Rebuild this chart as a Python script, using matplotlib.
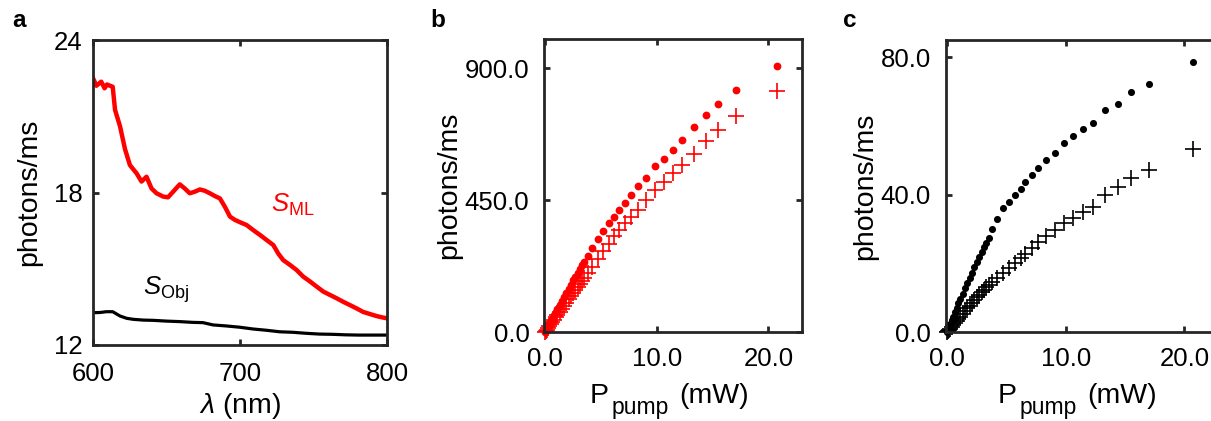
import matplotlib
matplotlib.use('Agg')
import matplotlib.pyplot as plt
from matplotlib.ticker import FormatStrFormatter

plt.rcParams['font.family'] = ['Liberation Sans', 'DejaVu Sans']
plt.rcParams['mathtext.fontset'] = 'custom'
plt.rcParams['mathtext.rm'] = 'Liberation Sans'
plt.rcParams['mathtext.it'] = 'Liberation Sans:italic'
plt.rcParams['mathtext.bf'] = 'Liberation Sans:bold'

# --- panel a: spectra ---
wl_ml = [600, 602.3, 605.6, 607.9, 609.5, 611.6, 613.4, 615, 618.4, 621.8, 625.1,
         629.7, 633, 636.4, 639.8, 643.2, 647.7, 651, 654.5, 659, 662.4, 665.8,
         669.2, 672.7, 676, 679.5, 682.9, 686.3, 689.7, 693.2, 696.6, 700, 704.5,
         709, 713.6, 718.1, 722.7, 726, 729.4, 734, 738.5, 743, 747.6, 752.1,
         756.7, 761.2, 765.7, 770.2, 774.8, 779.3, 783.8, 788.3, 792.8, 797.3, 800]
s_ml = [22.5, 22.2, 22.36, 22.1, 22.25, 22.2, 22.16, 21.25, 20.6, 19.7, 19.08,
        18.75, 18.43, 18.62, 18.16, 17.97, 17.84, 17.81, 18.03, 18.32, 18.16, 17.97,
        18.03, 18.12, 18.07, 17.97, 17.86, 17.77, 17.44, 17.05, 16.92, 16.83, 16.72,
        16.52, 16.33, 16.13, 15.93, 15.6, 15.34, 15.15, 14.95, 14.69, 14.5, 14.3,
        14.1, 13.97, 13.84, 13.7, 13.57, 13.44, 13.3, 13.22, 13.14, 13.08, 13.05]

wl_obj = [600, 605, 609, 613.4, 618.4, 622.9, 627.4, 634.2, 641, 650, 659, 668,
          674.8, 681.6, 690.6, 699.7, 708.8, 717.9, 727, 736, 745, 754, 763, 772,
          781, 790, 800]
s_obj = [13.27, 13.28, 13.31, 13.31, 13.14, 13.05, 13.01, 12.98, 12.97, 12.94,
         12.92, 12.89, 12.88, 12.79, 12.75, 12.7, 12.63, 12.58, 12.52, 12.5, 12.46,
         12.43, 12.42, 12.4, 12.39, 12.39, 12.39]

# --- panels b, c: power series ---
p_pump = [20.75, 17.05, 15.5, 14.38, 13.32, 12.3, 11.41, 10.6, 9.88, 9.06, 8.36,
          7.68, 7.15, 6.6, 6.2, 5.7, 5.22, 4.74, 4.2, 3.8, 3.5, 3.3, 3.1, 2.9, 2.7,
          2.5, 2.3, 2.1, 1.9, 1.7, 1.5, 1.3, 1.1, 0.95, 0.8, 0.65, 0.5, 0.38, 0.26,
          0.15, 0.06, 0.0]
b_dot = [907, 827, 779, 739, 699, 654, 620, 592, 567, 526, 498, 469, 439, 415, 392,
         372, 346, 318, 286, 258, 240, 228, 215, 202, 189, 176, 162, 148, 134, 120,
         106, 92, 78, 67, 57, 46, 36, 27, 19, 11, 4, 0]
b_plus = [822, 737, 691, 651, 608, 571, 543, 512, 485, 452, 418, 393, 372, 348, 326,
          302, 277, 248, 222, 201, 185, 175, 164, 154, 143, 132, 122, 111, 100, 90,
          79, 69, 58, 50, 42, 34, 26, 20, 14, 8, 3, 0]
c_dot = [78.6, 72.3, 69.9, 66.3, 64.6, 60.8, 59.1, 57.1, 55.1, 52.2, 50.1, 47.6,
         45.7, 43.8, 41.6, 39.9, 37.7, 36.0, 32.8, 29.9, 27.5, 26.0, 24.6, 23.2,
         21.8, 20.3, 18.8, 17.3, 15.8, 14.3, 12.8, 11.2, 9.6, 8.4, 7.1, 5.8, 4.5,
         3.4, 2.3, 1.3, 0.5, 0]
c_plus = [53.4, 47.1, 44.7, 42.3, 39.9, 36.5, 35.0, 33.2, 31.8, 29.7, 28.0, 26.1,
          24.4, 22.8, 21.5, 20.0, 18.6, 17.3, 15.7, 14.6, 13.7, 13.0, 12.3, 11.6,
          10.9, 10.1, 9.3, 8.5, 7.7, 6.9, 6.0, 5.2, 4.4, 3.8, 3.2, 2.6, 2.0, 1.5,
          1.0, 0.6, 0.2, 0]

AXC = '#262626'
TICK_FS = 18.5
LABEL_FS = 20.5

W, H = 1211, 421
fig = plt.figure(figsize=(W / 100, H / 100), dpi=100)


def px_axes(left, top, right, bottom):
    return fig.add_axes([left / W, 1 - bottom / H, (right - left) / W, (bottom - top) / H])


def px_text(x, y, s, **kw):
    # x, y in pixels from the top-left corner, y is the baseline
    return fig.text(x / W, 1 - y / H, s, ha='left', va='baseline', **kw)


def style(ax, xpad, ypad):
    for s in ax.spines.values():
        s.set_linewidth(2)
        s.set_color(AXC)
    ax.tick_params(direction='in', length=4, width=2, color=AXC, labelsize=TICK_FS,
                   top=True, right=True, labelcolor='black')
    ax.tick_params(axis='x', pad=xpad)
    ax.tick_params(axis='y', pad=ypad)


def pump_label(x0):
    # "P_pump (mW)" with a larger subscript than mathtext gives
    px_text(x0, 403, 'P', fontsize=LABEL_FS)
    px_text(x0 + 22, 414, 'pump', fontsize=16.5)
    px_text(x0 + 89, 403, '(mW)', fontsize=LABEL_FS)


# panel a
ax_a = px_axes(93, 40, 387, 345)
ax_a.plot(wl_obj, s_obj, color='black', lw=2.3)
ax_a.plot(wl_ml, s_ml, color='#ff0000', lw=3.2)
ax_a.set_xlim(600, 800)
ax_a.set_ylim(12, 24)
ax_a.set_xticks([600, 700, 800])
ax_a.set_yticks([12, 18, 24])
style(ax_a, 12, 7.5)
ax_a.text(721, 17.23, r'$S_{\mathrm{ML}}$', color='#ff0000', fontsize=18.5,
          ha='left', va='baseline')
ax_a.text(634, 13.97, r'$S_{\mathrm{Obj}}$', color='black', fontsize=18.5,
          ha='left', va='baseline')
ax_a.set_ylabel('photons/ms', fontsize=LABEL_FS)
ax_a.yaxis.set_label_coords(-0.173, 0.5)
ax_a.set_xlabel(r'$\lambda$ (nm)', fontsize=LABEL_FS)
ax_a.xaxis.set_label_coords(0.5, -0.15)

# panel b
ax_b = px_axes(544, 39, 802, 332)
ax_b.plot(p_pump, b_plus, ls='none', marker='+', ms=11, mew=1.2, color='#ff0000',
          clip_on=False)
ax_b.plot(p_pump, b_dot, ls='none', marker='o', ms=5.6, mew=0, color='#ff0000',
          clip_on=False)
ax_b.set_xlim(-0.1, 23)
ax_b.set_ylim(0, 1000)
ax_b.set_xticks([0, 10, 20])
ax_b.set_yticks([0, 450, 900])
ax_b.xaxis.set_major_formatter(FormatStrFormatter('%.1f'))
ax_b.yaxis.set_major_formatter(FormatStrFormatter('%.1f'))
style(ax_b, 11, 10.5)
ax_b.set_ylabel('photons/ms', fontsize=LABEL_FS)
ax_b.yaxis.set_label_coords(-0.318, 0.5)
pump_label(590)

# panel c (cut off by the right edge of the figure)
ax_c = px_axes(946, 40, 1220, 332)
ax_c.plot(p_pump, c_plus, ls='none', marker='+', ms=11, mew=1.2, color='black',
          clip_on=False)
ax_c.plot(p_pump, c_dot, ls='none', marker='o', ms=5.1, mew=0, color='black',
          clip_on=False)
ax_c.set_xlim(-0.1, 23)
ax_c.set_ylim(0, 85)
ax_c.set_xticks([0, 10, 20])
ax_c.set_yticks([0, 40, 80])
ax_c.xaxis.set_major_formatter(FormatStrFormatter('%.1f'))
ax_c.yaxis.set_major_formatter(FormatStrFormatter('%.1f'))
style(ax_c, 11, 11)
ax_c.set_ylabel('photons/ms', fontsize=LABEL_FS)
ax_c.yaxis.set_label_coords(-0.248, 0.5)
pump_label(998)

# panel letters
for x, letter in [(12, 'a'), (430, 'b'), (843, 'c')]:
    px_text(x, 27, letter, fontsize=17.5, fontweight='bold')

fig.savefig('out.png', dpi=100)
